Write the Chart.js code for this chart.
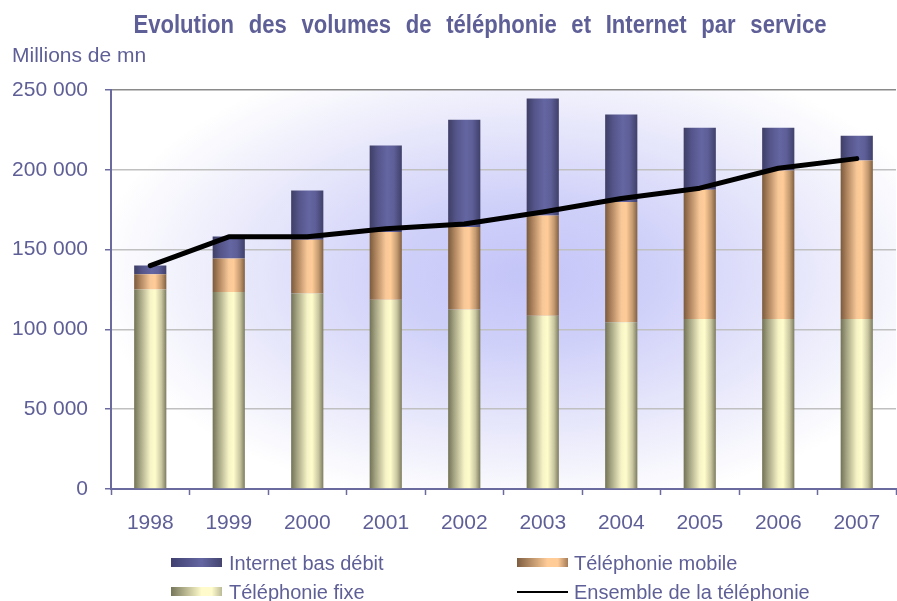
<!DOCTYPE html>
<html>
<head>
<meta charset="utf-8">
<script src="https://cdn.jsdelivr.net/npm/chart.js@4/dist/chart.umd.min.js"></script>
<style>
  html, body { margin: 0; padding: 0; background: #ffffff; }
  #wrap { position: relative; width: 897px; height: 601px; font-family: "Liberation Sans", Arial, sans-serif; color: #5f5f97; }
  canvas { position: absolute; left: 0; top: 0; }
  .txt { position: absolute; white-space: nowrap; }
  #title { left: 0; width: 960px; text-align: center; top: 9px; font-size: 26px; font-weight: bold; line-height: 30px; word-spacing: 10px; transform: scaleX(0.85); transform-origin: 480px 0; }
  #unit { left: 12px; top: 42px; font-size: 21px; line-height: 26px; }
  .lg { position: absolute; font-size: 20px; line-height: 22px; }
  .sw { position: absolute; width: 51px; height: 9px; }
</style>
</head>
<body>
<div id="wrap">
  <canvas id="c" width="897" height="601"></canvas>
  <div class="txt" id="title">Evolution des volumes de téléphonie et Internet par service</div>
  <div class="txt" id="unit">Millions de mn</div>
  <div class="sw" style="left:171px;top:558px;background:linear-gradient(to right,#404070,#6466a2 60%,#44446e);"></div>
  <div class="lg txt" style="left:229px;top:552px;">Internet bas débit</div>
  <div class="sw" style="left:517px;top:558px;background:linear-gradient(to right,#7e5e40,#ffcc98 60%,#ffcc98 80%,#a47c58);"></div>
  <div class="lg txt" style="left:574px;top:552px;">Téléphonie mobile</div>
  <div class="sw" style="left:171px;top:587px;background:linear-gradient(to right,#76765a,#fffbcc 60%,#fffbcc 80%,#bcbb98);"></div>
  <div class="lg txt" style="left:229px;top:581px;">Téléphonie fixe</div>
  <div class="sw" style="left:517px;top:591px;height:2px;background:#000000;"></div>
  <div class="lg txt" style="left:574px;top:581px;">Ensemble de la téléphonie</div>
</div>
<script>
const categories = ['1998','1999','2000','2001','2002','2003','2004','2005','2006','2007'];
const telFixe    = [125000, 123500, 122500, 118500, 112500, 108500, 104500, 106500, 106500, 106500];
const telMobile  = [  9500,  21000,  33700,  42500,  51600,  62900,  75300,  81000,  93100,  99300];
const internetBD = [  5500,  13700,  30900,  54200,  67300,  73200,  54800,  38900,  26800,  15600];
const ensemble   = [140000, 158000, 158000, 163000, 166000, 173500, 182000, 188500, 201000, 207000];
const yTicks     = [0, 50000, 100000, 150000, 200000, 250000];

const BAR_PCT = 0.41;

function barGradient(stops, fallback) {
  return function (ctx) {
    const chart = ctx.chart;
    const xs = chart.scales && chart.scales.x;
    if (!chart.chartArea || !xs || ctx.dataIndex === undefined) return fallback;
    const cx = xs.getPixelForValue(ctx.dataIndex);
    const cw = (xs.right - xs.left) / categories.length;
    const w = cw * BAR_PCT;
    const g = chart.ctx.createLinearGradient(cx - w / 2, 0, cx + w / 2, 0);
    stops.forEach(s => g.addColorStop(s[0], s[1]));
    return g;
  };
}

const fixeStops = [[0,'#727256'],[0.18,'#a4a382'],[0.5,'#f6f3c6'],[0.65,'#fffccc'],[0.85,'#c8c6a0'],[1,'#7c7b5e']];
const mobStops  = [[0,'#7a5a3c'],[0.2,'#b08660'],[0.5,'#f8c898'],[0.65,'#ffcc98'],[0.85,'#c49a70'],[1,'#806040']];
const netStops  = [[0,'#3e3e66'],[0.25,'#55558a'],[0.55,'#6466a2'],[0.75,'#5e5f98'],[1,'#40406a']];

const bgPlugin = {
  id: 'plotBg',
  beforeDraw(chart) {
    const { ctx, chartArea: a } = chart;
    ctx.save();
    ctx.beginPath();
    ctx.rect(a.left, a.top, a.right - a.left, a.bottom - a.top);
    ctx.clip();
    ctx.fillStyle = '#ffffff';
    ctx.fillRect(a.left, a.top, a.right - a.left, a.bottom - a.top);
    const cx = 525, cy = 275, rx = 430, ry = 235;
    ctx.translate(cx, cy);
    ctx.scale(1, ry / rx);
    const g = ctx.createRadialGradient(0, 0, 0, 0, 0, rx);
    g.addColorStop(0, '#c4c5f8');
    g.addColorStop(0.3, '#cfd0f9');
    g.addColorStop(0.6, '#e4e4fb');
    g.addColorStop(0.85, '#f5f5fd');
    g.addColorStop(1, '#ffffff');
    ctx.fillStyle = g;
    ctx.fillRect(-rx * 2, -rx * 2, rx * 4, rx * 4);
    ctx.restore();
  }
};

const AXIS = '#6a6a9e';
const TXT = '#5f5f97';

new Chart(document.getElementById('c'), {
  data: {
    labels: categories,
    datasets: [
      { type: 'line', label: 'Ensemble de la téléphonie', data: ensemble, borderColor: '#000000', borderWidth: 5,
        pointRadius: 0, tension: 0, fill: false, stack: 'tel', order: 0, borderCapStyle: 'round', borderJoinStyle: 'round' },
      { type: 'bar', label: 'Téléphonie fixe', data: telFixe, stack: 'bars', order: 1,
        backgroundColor: barGradient(fixeStops, '#e8e6b8'), borderWidth: 0 },
      { type: 'bar', label: 'Téléphonie mobile', data: telMobile, stack: 'bars', order: 1,
        backgroundColor: barGradient(mobStops, '#e8b888'), borderWidth: 0 },
      { type: 'bar', label: 'Internet bas débit', data: internetBD, stack: 'bars', order: 1,
        backgroundColor: barGradient(netStops, '#5a5a90'), borderWidth: 0 }
    ]
  },
  options: {
    responsive: false,
    devicePixelRatio: 1,
    animation: false,
    datasets: { bar: { barPercentage: BAR_PCT, categoryPercentage: 1 } },
    layout: { padding: { left: 0, top: 90, right: 1, bottom: 0 } },
    plugins: { legend: { display: false }, title: { display: false }, tooltip: { enabled: false } },
    scales: {
      x: {
        stacked: true,
        afterFit(s) { s.height = 112; },
        grid: { display: true, drawOnChartArea: false, drawTicks: true, tickLength: 6, tickColor: AXIS, tickWidth: 1.5, offset: true },
        border: { color: AXIS, width: 2 },
        ticks: { color: TXT, font: { family: '"Liberation Sans", Arial, sans-serif', size: 21 }, padding: 16, maxRotation: 0 }
      },
      y: {
        stacked: true,
        min: 0, max: 250000,
        afterFit(s) { s.width = 111; },
        afterBuildTicks(s) { s.ticks = yTicks.map(v => ({ value: v })); },
        grid: {
          color: c => (c.tick && c.tick.value === 250000) ? '#8a8a8a' : '#c0c0c0',
          lineWidth: 1.5, tickLength: 6, tickColor: AXIS, tickWidth: 1.5
        },
        border: { color: AXIS, width: 2 },
        ticks: {
          color: TXT, padding: 17,
          font: { family: '"Liberation Sans", Arial, sans-serif', size: 21 },
          callback: v => v === 0 ? '0' : String(v).replace(/\B(?=(\d{3})+(?!\d))/g, ' ')
        }
      }
    }
  },
  plugins: [bgPlugin]
});
</script>
</body>
</html>
